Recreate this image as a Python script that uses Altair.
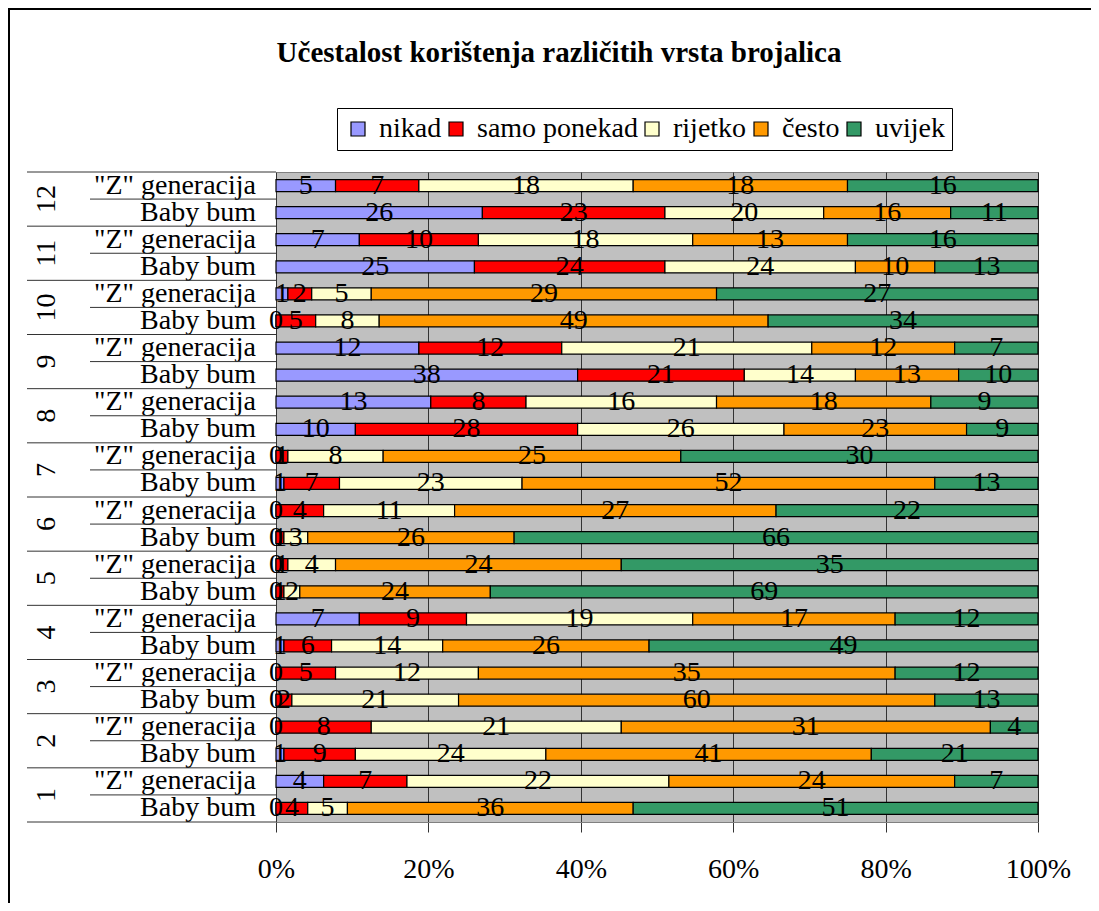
import altair as alt
import pandas as pd

title_text = "Učestalost korištenja različitih vrsta brojalica"
groups = list(range(1, 13))
categories = ["nikad", "samo ponekad", "rijetko", "često", "uvijek"]
colors = ["#9999FF", "#FF0000", "#FFFFCC", "#FF9900", "#339966"]
cohorts = ['"Z" generacija', "Baby bum"]

# values per group 1..12
bb_nikad = [0, 1, 0, 1, 0, 0, 1, 10, 38, 0, 25, 26]
bb_samo = [4, 9, 2, 6, 1, 1, 7, 28, 21, 5, 24, 23]
bb_rijetko = [5, 24, 21, 14, 2, 3, 23, 26, 14, 8, 24, 20]
bb_cesto = [36, 41, 60, 26, 24, 26, 52, 23, 13, 49, 10, 16]
bb_uvijek = [51, 21, 13, 49, 69, 66, 13, 9, 10, 34, 13, 11]

z_nikad = [4, 0, 0, 7, 0, 0, 0, 13, 12, 1, 7, 5]
z_samo = [7, 8, 5, 9, 1, 4, 1, 8, 12, 2, 10, 7]
z_rijetko = [22, 21, 12, 19, 4, 11, 8, 16, 21, 5, 18, 18]
z_cesto = [24, 31, 35, 17, 24, 27, 25, 18, 12, 29, 13, 18]
z_uvijek = [7, 4, 12, 12, 35, 22, 30, 9, 7, 27, 16, 16]

bb = [bb_nikad, bb_samo, bb_rijetko, bb_cesto, bb_uvijek]
zz = [z_nikad, z_samo, z_rijetko, z_cesto, z_uvijek]

rows = []
for i, g in enumerate(groups):
    for cohort, series in ((cohorts[0], zz), (cohorts[1], bb)):
        key = f"{g}|{cohort}"
        for k, cat in enumerate(categories):
            rows.append(dict(row=key, category=cat, order=k, value=series[k][i]))
df = pd.DataFrame(rows)

row_order = [f"{g}|{c}" for g in reversed(groups) for c in cohorts]
df_rows = pd.DataFrame({"row": row_order, "label": [r.split("|")[1] for r in row_order]})
df_groups = pd.DataFrame({"row": [f"{g}|{cohorts[0]}" for g in groups],
                          "label": [str(g) for g in groups]})
df_inner = pd.DataFrame({"row": [f"{g}|{cohorts[1]}" for g in groups]})
df_bottom = pd.DataFrame({"row": [f"{groups[0]}|{cohorts[1]}"]})
df_dummy = pd.DataFrame({"a": [0]})

FONT = "Liberation Serif"
FS = 28

yscale = alt.Scale(domain=row_order, paddingInner=0, paddingOuter=0)
xscale = alt.Scale(domain=[0, 1])

base = alt.Chart(df).transform_joinaggregate(
    total="sum(value)", groupby=["row"]
).transform_stack(
    stack="value", groupby=["row"], as_=["v0", "v1"], sort=[alt.SortField("order")]
).transform_calculate(
    x0="datum.v0/datum.total",
    x1="datum.v1/datum.total",
    xm="(datum.v0+datum.v1)/2/datum.total",
)

bars = base.mark_bar(stroke="black", strokeWidth=1.2, size=12).encode(
    x=alt.X("x0:Q", scale=xscale,
            axis=alt.Axis(format="%", values=[0, 0.2, 0.4, 0.6, 0.8, 1], grid=True,
                          gridColor="#333333", gridWidth=1, tickColor="#333333",
                          tickSize=10, domainColor="#808080", labelFont=FONT,
                          labelFontSize=FS, labelColor="black", labelPadding=23,
                          title=None, labelFlush=False)),
    x2="x1:Q",
    y=alt.Y("row:N", scale=yscale, sort=row_order,
            axis=alt.Axis(title=None, ticks=False, grid=False, labels=False,
                          domainColor="#333333")),
    color=alt.Color("category:N",
                    scale=alt.Scale(domain=categories, range=colors),
                    legend=alt.Legend(title=None, orient="none", legendX=61, legendY=-64,
                                      direction="horizontal", columns=5,
                                      symbolType="square", symbolSize=196,
                                      symbolStrokeColor="black", symbolStrokeWidth=1.2,
                                      labelFont=FONT, labelFontSize=FS, labelColor="black",
                                      labelOffset=7, labelLimit=400, columnPadding=0,
                                      padding=7, symbolOffset=0,
                                      strokeColor="black", fillColor="white")),
)

labels = base.mark_text(font=FONT, fontSize=FS, baseline="middle", color="black").encode(
    x=alt.X("xm:Q", scale=xscale),
    y=alt.Y("row:N", scale=yscale, sort=row_order, axis=None),
    text="value:Q",
)

rowlab = alt.Chart(df_rows).mark_text(font=FONT, fontSize=FS, align="right",
                                      baseline="middle", color="black").encode(
    x=alt.value(-20),
    y=alt.Y("row:N", scale=yscale, sort=row_order, axis=None),
    text="label:N",
)

grp = alt.Chart(df_groups).mark_text(font=FONT, fontSize=FS, angle=270, align="center",
                                     baseline="middle", color="black").encode(
    x=alt.value(-229),
    y=alt.Y("row:N", scale=yscale, sort=row_order, axis=None, bandPosition=1),
    text="label:N",
)

rule_grp = alt.Chart(df_groups).mark_rule(color="#333333", strokeWidth=1).encode(
    x=alt.value(-249), x2=alt.value(0),
    y=alt.Y("row:N", scale=yscale, sort=row_order, axis=None, bandPosition=0),
)
rule_inner = alt.Chart(df_inner).mark_rule(color="#333333", strokeWidth=1).encode(
    x=alt.value(-186), x2=alt.value(0),
    y=alt.Y("row:N", scale=yscale, sort=row_order, axis=None, bandPosition=0),
)
rule_bottom = alt.Chart(df_bottom).mark_rule(color="#333333", strokeWidth=1).encode(
    x=alt.value(-249), x2=alt.value(0),
    y=alt.Y("row:N", scale=yscale, sort=row_order, axis=None, bandPosition=1),
)

title = alt.Chart(df_dummy).mark_text(font=FONT, fontSize=29, fontWeight="bold",
                                      align="center", baseline="alphabetic",
                                      color="black").encode(
    x=alt.value(283), y=alt.value(-110), text=alt.value(title_text))

border_left = alt.Chart(df_dummy).mark_rect(color="black").encode(
    x=alt.value(-268), x2=alt.value(-266), y=alt.value(-164), y2=alt.value(731))
border_top = alt.Chart(df_dummy).mark_rect(color="black").encode(
    x=alt.value(-268), x2=alt.value(815), y=alt.value(-164), y2=alt.value(-162))

chart = alt.layer(border_left, border_top, title, bars, labels, rowlab, grp,
                  rule_grp, rule_inner, rule_bottom).properties(
    width=762, height=650,
    padding={"left": 268, "top": 164, "right": 53, "bottom": 81},
    autosize=alt.AutoSizeParams(type="none"),
).configure_view(fill="#C0C0C0", stroke="#808080", strokeWidth=1)

chart.save("out.html", embed_options={"renderer": "svg", "actions": False})
